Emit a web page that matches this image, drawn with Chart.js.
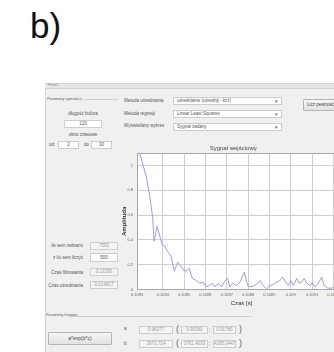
<!DOCTYPE html>
<html lang="pl">
<head>
<meta charset="utf-8">
<title>Sygnał wejściowy</title>
<script src="https://cdn.jsdelivr.net/npm/chart.js@4.4.1/dist/chart.umd.min.js"></script>
<style>
  html, body { margin: 0; padding: 0; background: #fff; width: 334px; height: 352px; overflow: hidden; position: relative; }
  .tag { position: absolute; left: 30px; top: 6px; font: 35px "Liberation Sans Narrow", "Liberation Sans", Arial, sans-serif; color: #111; }
  .win { position: absolute; left: 45px; top: 83px; width: 310px; height: 280px; background: #f0f0f0; border-top: 1px solid #cfcfcf; border-left: 1px solid #d6d6d6; }
  .bar { position: absolute; left: 45px; top: 84px; width: 310px; height: 4px; background: #e6e6e6; border-bottom: 1px solid #d2d2d2; }
  .lbl { position: absolute; font: 4.5px "Liberation Sans", Arial, sans-serif; color: #555; white-space: nowrap; line-height: 5px; }
  .rgt { text-align: right; }
  .ctr { text-align: center; }
  .rule { position: absolute; height: 0; border-top: 1px solid #d0d0d0; }
  .box { position: absolute; background: #fff; border: 1px solid #cdcdcd; box-sizing: border-box; font: 4.5px "Liberation Sans", Arial, sans-serif; color: #555; text-align: center; white-space: nowrap; }
  .box.off { background: #f5f5f5; color: #9a9a9a; }
  .combo { text-align: left; padding-left: 3px; }
  .combo::after { content: "\25BE"; position: absolute; right: 3px; top: 0; font-size: 5px; color: #666; }
  .btn { position: absolute; background: linear-gradient(#f6f6f6, #e2e2e2); border: 1px solid #b4b4b4; border-radius: 1px; box-sizing: border-box; font: 4.5px "Liberation Sans", Arial, sans-serif; color: #444; white-space: nowrap; }
  .paren { position: absolute; font: 9px "Liberation Sans", Arial, sans-serif; color: #666; line-height: 9px; }
  #wrap { position: absolute; left: 100px; top: 140px; width: 260px; height: 167px; }
</style>
</head>
<body>
<div class="tag">b)</div>

<div class="win"></div>
<div class="bar"></div>
<div class="lbl" style="left:48px;top:83px;font-size:3.5px;color:#888;">Form1</div>

<!-- parametry symulacji -->
<div class="lbl" style="left:47px;top:97px;font-size:3.8px;">Parametry symulacji</div>
<div class="rule" style="left:78px;top:99px;width:40px;"></div>
<div class="lbl ctr" style="left:60px;top:111px;width:46px;">długość bufora</div>
<div class="box" style="left:64px;top:120px;width:38px;height:8px;line-height:6px;">120</div>
<div class="lbl ctr" style="left:60px;top:132px;width:46px;">okno czasowe</div>
<div class="lbl" style="left:49px;top:142px;">od</div>
<div class="box" style="left:58px;top:141px;width:21px;height:8px;line-height:6px;">2</div>
<div class="lbl" style="left:84px;top:142px;">do</div>
<div class="box" style="left:91px;top:141px;width:21px;height:8px;line-height:6px;">30</div>

<!-- metody -->
<div class="lbl" style="left:124px;top:98px;">Metoda uśredniania</div>
<div class="box combo" style="left:173px;top:97px;width:109px;height:8px;line-height:6px;">uśrednianie (uśrednij - kcz)</div>
<div class="lbl" style="left:124px;top:111px;">Metoda regresji</div>
<div class="box combo" style="left:173px;top:110px;width:109px;height:8px;line-height:6px;">Linear Least Squares</div>
<div class="lbl" style="left:124px;top:123px;">Wyświetlany wykres</div>
<div class="box combo" style="left:173px;top:123px;width:109px;height:8px;line-height:6px;">Sygnał zadany</div>
<div class="btn" style="left:303px;top:99px;width:45px;height:12px;line-height:10px;padding-left:3px;">Licz pewność</div>

<!-- próbki i czasy -->
<div class="lbl rgt" style="left:40px;top:243px;width:43px;">ile sem zebrano</div>
<div class="box off" style="left:90px;top:242px;width:28px;height:8px;line-height:6px;">7563</div>
<div class="lbl rgt" style="left:40px;top:255px;width:43px;">z ilu sem liczyć</div>
<div class="box" style="left:90px;top:253px;width:28px;height:9px;line-height:7px;">500</div>
<div class="lbl rgt" style="left:40px;top:270px;width:43px;">Czas filtrowania</div>
<div class="box off" style="left:90px;top:268px;width:28px;height:8px;line-height:6px;">0.13290</div>
<div class="lbl rgt" style="left:40px;top:283px;width:43px;">Czas uśredniania</div>
<div class="box off" style="left:90px;top:281px;width:28px;height:8px;line-height:6px;">0.014827</div>

<!-- parametry krzywej -->
<div class="lbl" style="left:46px;top:313px;font-size:3.8px;">Parametry krzywej</div>
<div class="rule" style="left:71px;top:316px;width:181px;"></div>
<div class="btn" style="left:48px;top:332px;width:64px;height:13px;line-height:11px;text-align:center;font-size:5px;">a*exp(b*c)</div>

<div class="lbl" style="left:124px;top:326px;">a</div>
<div class="box off" style="left:139px;top:326px;width:34px;height:8px;line-height:6px;">0.96377</div>
<div class="paren" style="left:176px;top:325px;">(</div>
<div class="box off" style="left:181px;top:326px;width:27px;height:8px;line-height:6px;">0.90360</div>
<div class="lbl" style="left:209px;top:327px;">;</div>
<div class="box off" style="left:213px;top:326px;width:23px;height:8px;line-height:6px;">0.91785</div>
<div class="paren" style="left:239px;top:325px;">)</div>

<div class="lbl" style="left:124px;top:341px;">b</div>
<div class="box off" style="left:139px;top:340px;width:34px;height:8px;line-height:6px;">3973.724</div>
<div class="paren" style="left:176px;top:339px;">(</div>
<div class="box off" style="left:181px;top:340px;width:27px;height:8px;line-height:6px;">3761.4033</div>
<div class="lbl" style="left:209px;top:341px;">;</div>
<div class="box off" style="left:213px;top:340px;width:23px;height:8px;line-height:6px;">4185.0447</div>
<div class="paren" style="left:239px;top:339px;">)</div>

<div id="wrap"><canvas id="signalChart" width="260" height="167"></canvas></div>

<script>
// próbki sygnału wejściowego: czas [s] i amplituda
const sampleTimes = [
  0.108279, 0.108292, 0.108308, 0.108323, 0.108339, 0.108352, 0.108359, 0.108373,
  0.108386, 0.108397, 0.108409, 0.108425, 0.108438, 0.108454, 0.108470, 0.108485,
  0.108499, 0.108513, 0.108523, 0.108539, 0.108558, 0.108574, 0.108589, 0.108602,
  0.108617, 0.108633, 0.108644, 0.108660, 0.108676, 0.108691, 0.108704, 0.108715,
  0.108730, 0.108746, 0.108762, 0.108782, 0.108798, 0.108813, 0.108829, 0.108845,
  0.108857, 0.108871, 0.108887, 0.108902, 0.108918, 0.108934, 0.108949, 0.108962,
  0.108976, 0.108988, 0.109001, 0.109012, 0.109028, 0.109039, 0.109051, 0.109063,
  0.109075, 0.109090, 0.109101, 0.109114, 0.109129, 0.109145, 0.109157, 0.109173,
  0.109192, 0.109212, 0.109231
];
const amplitude = [
  1.10, 1.10, 1.00, 0.91, 0.75, 0.59, 0.39, 0.51,
  0.43, 0.36, 0.35, 0.30, 0.27, 0.15, 0.22, 0.19,
  0.15, 0.15, 0.17, 0.09, 0.07, 0.05, 0.06, 0.02,
  0.03, 0.05, 0.02, 0.05, 0.02, 0.07, 0.09, 0.02,
  0.05, 0.03, 0.06, 0.14, 0.03, 0.02, 0.03, 0.05,
  0.07, 0.03, 0.005, 0.03, 0.04, 0.06, 0.07, 0.10,
  0.06, 0.03, 0.07, 0.03, 0.09, 0.05, 0.06, 0.09,
  0.05, 0.03, 0.06, 0.02, 0.05, 0.10, 0.03, 0.01,
  0.01, 0.03, 0.02
];
const timeTicks = [0.1084, 0.1085, 0.1086, 0.1087, 0.1088, 0.1089, 0.109, 0.1091, 0.1092];
const amplitudeTicks = [0, 0.2, 0.4, 0.6, 0.8, 1];

const tMin = 0.108279, tMax = 0.109259;
const tickFont = { family: "'Liberation Sans', Arial, sans-serif", size: 4 };
const shortNum = v => String(parseFloat(Number(v).toFixed(4)));

// ramka wokół obszaru wykresu
const plotFrame = {
  id: 'plotFrame',
  afterDraw(chart) {
    const { ctx, chartArea: a } = chart;
    ctx.save();
    ctx.strokeStyle = '#a8a8a8';
    ctx.lineWidth = 1;
    ctx.strokeRect(Math.round(a.left) + 0.5, Math.round(a.top) + 0.5,
      Math.round(a.right - a.left), Math.round(a.bottom - a.top));
    ctx.restore();
  }
};

const plotBg = {
  id: 'plotBg',
  beforeDraw(chart) {
    const { ctx, chartArea: a } = chart;
    ctx.save();
    ctx.fillStyle = '#fff';
    ctx.fillRect(a.left, a.top, a.right - a.left, a.bottom - a.top);
    ctx.restore();
  }
};

new Chart(document.getElementById('signalChart'), {
  type: 'line',
  data: {
    datasets: [{
      label: 'Sygnał wejściowy',
      data: sampleTimes.map((t, i) => ({ x: t, y: amplitude[i] })),
      borderColor: '#9d9de6',
      borderWidth: 1,
      pointRadius: 0,
      tension: 0,
      fill: false
    }]
  },
  options: {
    responsive: false,
    animation: false,
    layout: { padding: { left: 20.4, right: 14, top: 0, bottom: 0 } },
    plugins: {
      legend: { display: false },
      tooltip: { enabled: false },
      title: {
        display: true,
        text: 'Sygnał wejściowy',
        color: '#444',
        font: { family: "'Liberation Sans', Arial, sans-serif", size: 6, weight: 'normal' },
        padding: { top: 4.5, bottom: 1.5 }
      }
    },
    scales: {
      x: {
        type: 'linear',
        min: tMin,
        max: tMax,
        afterBuildTicks: s => { s.ticks = [tMin, ...timeTicks].map(v => ({ value: v })); },
        afterFit: s => { s.height = 17.6; },
        grid: { color: '#cfcfcf', drawTicks: false },
        border: { display: false },
        ticks: {
          font: tickFont,
          color: '#666',
          padding: 3.5,
          maxRotation: 0,
          autoSkip: false,
          callback: shortNum
        },
        title: {
          display: true,
          text: 'Czas [s]',
          color: '#333',
          font: { family: "'Liberation Sans', Arial, sans-serif", size: 6 },
          padding: { top: 0, bottom: 0 }
        }
      },
      y: {
        min: 0,
        max: 1.1,
        afterBuildTicks: s => { s.ticks = amplitudeTicks.map(v => ({ value: v })); },
        afterFit: s => { s.width = 16.6; },
        grid: { color: '#cfcfcf', drawTicks: false },
        border: { display: false },
        ticks: { font: tickFont, color: '#666', padding: 4, callback: shortNum },
        title: {
          display: true,
          text: 'Amplituda',
          color: '#333',
          font: { family: "'Liberation Sans', Arial, sans-serif", size: 6, weight: 'bold' },
          padding: { top: 0, bottom: 0 }
        }
      }
    }
  },
  plugins: [plotBg, plotFrame]
});
</script>
</body>
</html>
